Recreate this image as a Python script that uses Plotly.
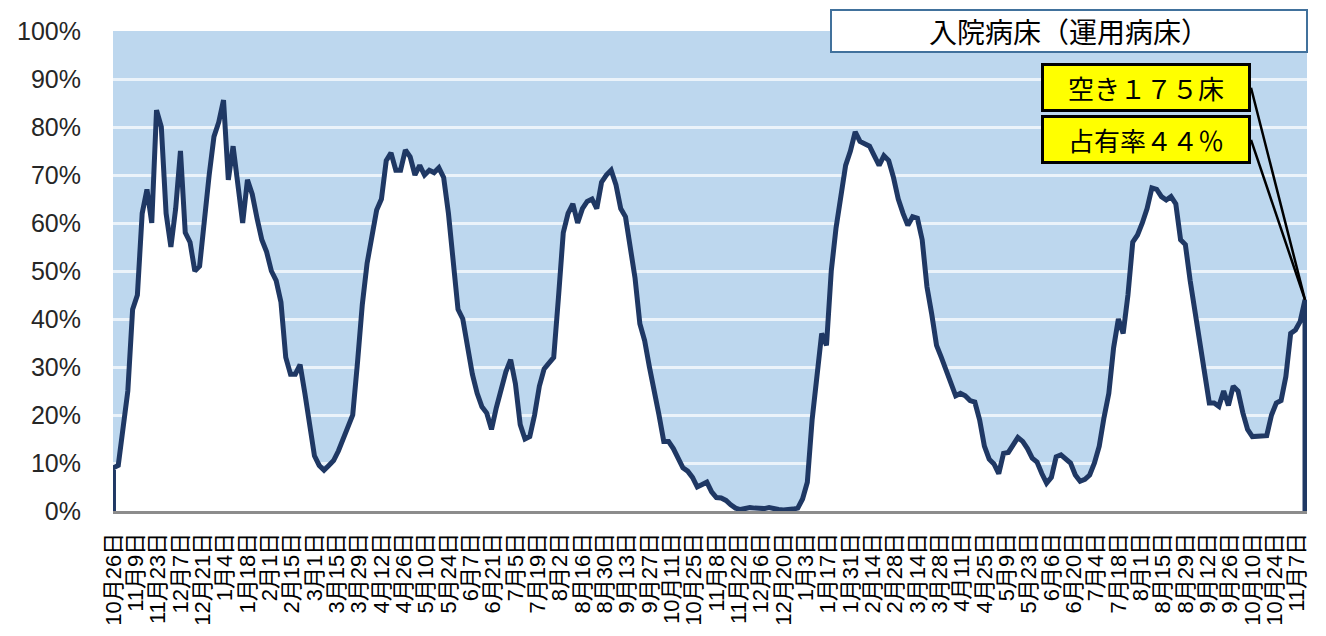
import pandas as pd
import plotly.graph_objects as go

# ---- data -------------------------------------------------------------
start_date = "2020-10-26"
step = "3D"
# occupancy rate (%) of operational hospital beds, read every 3 days from 2020-10-26
occupancy = [
    9, 9.5, 18, 25, 42, 45, 62, 67, 60, 83.5,
    80, 62, 55, 63, 75, 58, 56, 50, 51, 61,
    70, 78, 81, 85.6, 69, 76, 68, 60, 69, 66,
    61, 56.5, 54, 50, 48, 43.5, 32, 28.5, 28.5, 30.5,
    24.5, 18.5, 11.5, 9.5, 8.5, 9.5, 10.5, 12.5, 15, 17,
    20, 31, 43, 51.6, 57, 62.7, 65, 73, 74.6, 71,
    71, 75.2, 73.8, 70, 72, 70, 71, 70.5, 71.5, 69.5,
    62, 53, 42, 40, 34.5, 28.5, 24.5, 21.7, 20.4, 17,
    21.5, 25, 29, 31.5, 26.5, 18, 15, 15.5, 20, 26,
    29.6, 30.8, 32, 44.6, 58, 62, 64, 60, 63, 64.5,
    65, 63, 68.5, 70, 71, 68, 63, 61.3, 55, 48.5,
    39, 35.5, 30, 25.5, 20, 14.5, 14.5, 13, 11, 9,
    8.3, 7, 5, 5.5, 6, 4, 2.8, 2.7, 2.2, 1.3,
    0.6, 0.3, 0.5, 0.7, 0.6, 0.5, 0.5, 0.7, 0.4, 0.3,
    0.2, 0.2, 0.4, 0.6, 2.5, 6, 19, 28, 37, 34.5,
    50, 59, 66, 72, 75, 79, 77, 76.5, 76, 74,
    72, 74, 73, 69.5, 65, 62, 59.5, 61.3, 61, 56.5,
    46.7, 41, 34.5, 32, 29.5, 26.5, 24, 24.5, 24, 23,
    22.7, 19, 13.5, 10.8, 9.8, 7.8, 12, 12.2, 14, 15.3,
    14.5, 13, 11, 10.2, 7.8, 5.8, 7, 11.3, 11.7, 11,
    10, 7.5, 6.2, 6.6, 7.5, 10, 13.5, 19.5, 24.5, 34,
    40, 37, 45, 56, 57.5, 60, 63, 67.3, 67, 65.5,
    64.8, 65.5, 64, 56.5, 55.5, 48, 41.5, 36, 28, 22.5,
    22.5, 21.8, 25, 22, 26, 25, 20.5, 17, 15.5, 15.5,
    15.5, 15.7, 20, 22.5, 23, 28, 37, 37.7, 39.5, 44,
]

tick_start = "2020-10-26"
tick_step = "14D"
tick_labels = [
    "10月26日", "11月9日", "11月23日", "12月7日", "12月21日",
    "1月4日", "1月18日", "2月1日", "2月15日", "3月1日", "3月15日", "3月29日",
    "4月12日", "4月26日", "5月10日", "5月24日", "6月7日", "6月21日", "7月5日",
    "7月19日", "8月2日", "8月16日", "8月30日", "9月13日", "9月27日", "10月11日",
    "10月25日", "11月8日", "11月22日", "12月6日", "12月20日",
    "1月3日", "1月17日", "1月31日", "2月14日", "2月28日", "3月14日", "3月28日",
    "4月11日", "4月25日", "5月9日", "5月23日", "6月6日", "6月20日", "7月4日",
    "7月18日", "8月1日", "8月15日", "8月29日", "9月12日", "9月26日", "10月10日",
    "10月24日", "11月7日",
]

title_text = "入院病床（運用病床）"
vacant_text = "空き１７５床"
rate_text = "占有率４４％"

# ---- figure -----------------------------------------------------------
dates = pd.date_range(start_date, periods=len(occupancy), freq=step)
tick_dates = pd.date_range(tick_start, periods=len(tick_labels), freq=tick_step)

# area outline: closes down to the baseline at both ends (Excel area style)
x_area = [dates[0]] + list(dates) + [dates[-1]]
y_area = [0] + occupancy + [0]

fig = go.Figure()
fig.add_trace(go.Scatter(
    x=x_area, y=y_area, mode="lines",
    line=dict(color="#1F3864", width=5),
    fill="tozeroy", fillcolor="#FFFFFF",
    hoverinfo="skip", showlegend=False,
))

x0 = dates[0] - pd.Timedelta(hours=7)
x1 = dates[-1] + pd.Timedelta(hours=30)

fig.update_layout(
    width=1310, height=620,
    margin=dict(l=105, r=11, t=23, b=117, autoexpand=False),
    paper_bgcolor="#FFFFFF",
    plot_bgcolor="#BDD7EE",
    font=dict(family="Liberation Sans, Noto Sans CJK JP", color="#262626"),
    xaxis=dict(
        type="date", range=[x0, x1],
        tickmode="array", tickvals=list(tick_dates), ticktext=tick_labels,
        tickangle=-90, tickfont=dict(size=22, family="Liberation Sans, Noto Sans CJK JP", color="#000000"),
        ticks="outside", ticklen=10, tickcolor="rgba(0,0,0,0)",
        showgrid=False, showline=True, linecolor="#8C8C8C", linewidth=3,
        zeroline=False, automargin=False,
    ),
    yaxis=dict(
        range=[0, 100], dtick=10, ticksuffix="%",
        tickfont=dict(size=25, family="Liberation Sans", color="#262626"),
        ticks="outside", ticklen=26, tickcolor="rgba(0,0,0,0)",
        showgrid=True, gridcolor="rgba(255,255,255,0.7)", gridwidth=2.5,
        zeroline=False, showline=False, automargin=False,
    ),
)

# title box
fig.add_annotation(
    xref="paper", yref="paper", x=0.801, y=1.0, xanchor="center", yanchor="middle",
    text=title_text, showarrow=False,
    font=dict(size=28, family="Noto Sans CJK JP", color="#000000"),
    bgcolor="#FFFFFF", bordercolor="#41719C", borderwidth=2, borderpad=1,
    width=472, height=38,
)

# callout boxes pointing at the latest value
for txt, ay in [(vacant_text, -212), (rate_text, -160)]:
    fig.add_annotation(
        x=dates[-1], y=occupancy[-1], xref="x", yref="y",
        ax=-54, ay=ay, xanchor="right", yanchor="middle",
        text=txt, showarrow=True, arrowhead=0, arrowwidth=2.5, arrowcolor="#000000",
        font=dict(size=26, family="Noto Sans CJK JP", color="#000000"),
        bgcolor="#FFFF00", bordercolor="#000000", borderwidth=3, borderpad=1,
        width=202, height=41,
    )

fig.write_html("out.html")
